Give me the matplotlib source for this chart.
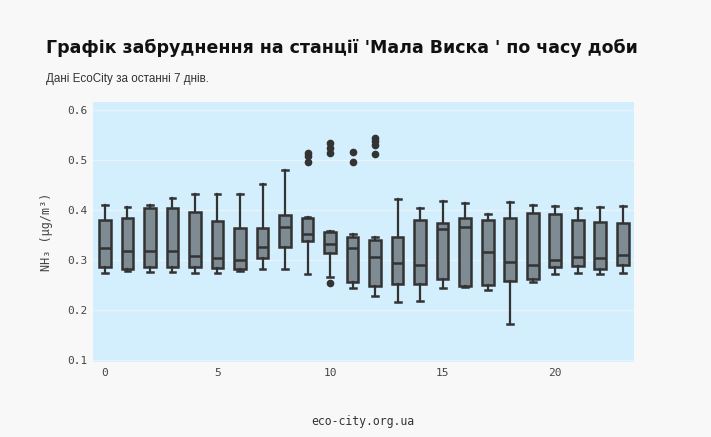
import numpy as np
import matplotlib.pyplot as plt

hours = list(range(24))
lo_whisk = [0.275, 0.2785, 0.2765, 0.2765, 0.274, 0.274, 0.279, 0.283, 0.283, 0.272, 0.266, 0.2444,
            0.2277, 0.2163, 0.219, 0.245, 0.2458, 0.2398, 0.1715, 0.2565, 0.2733, 0.274, 0.2725, 0.2745]
q1 = [0.2866, 0.283, 0.287, 0.287, 0.287, 0.2846, 0.283, 0.3047, 0.327, 0.3388, 0.3154, 0.2565,
      0.249, 0.2518, 0.253, 0.263, 0.2484, 0.2504, 0.2578, 0.2625, 0.2866, 0.2886, 0.283, 0.290]
med = [0.3235, 0.319, 0.318, 0.318, 0.3087, 0.3047, 0.3007, 0.327, 0.3656, 0.3516, 0.3315, 0.324,
       0.306, 0.2946, 0.2913, 0.3616, 0.3656, 0.3167, 0.2973, 0.2913, 0.3013, 0.306, 0.3054, 0.310]
q3 = [0.380, 0.384, 0.404, 0.404, 0.397, 0.378, 0.365, 0.365, 0.390, 0.385, 0.357, 0.3455,
      0.341, 0.346, 0.381, 0.375, 0.384, 0.3797, 0.385, 0.394, 0.3917, 0.381, 0.376, 0.3737]
hi_whisk = [0.410, 0.407, 0.410, 0.425, 0.433, 0.433, 0.433, 0.453, 0.481, 0.387, 0.358, 0.3516,
            0.346, 0.423, 0.404, 0.418, 0.4145, 0.3917, 0.4165, 0.411, 0.409, 0.4044, 0.4064, 0.4077]
outliers = {9: [0.515, 0.509, 0.496],
            10: [0.534, 0.524, 0.514, 0.2545],
            11: [0.516, 0.497],
            12: [0.545, 0.538, 0.531, 0.513]}

stats = []
for i, h in enumerate(hours):
    stats.append({'whislo': lo_whisk[i], 'q1': q1[i], 'med': med[i], 'q3': q3[i],
                  'whishi': hi_whisk[i], 'fliers': outliers.get(h, [])})

fig = plt.figure(figsize=(7.11, 4.37), dpi=100)
fig.patch.set_facecolor('#f8f8f8')
ax = fig.add_axes([0.1308, 0.1716, 0.7609, 0.595])
ax.set_facecolor('#d3eefc')

edge = '#333333'
ax.bxp(stats, positions=hours, widths=0.52, patch_artist=True, capwidths=0.26,
       boxprops=dict(facecolor='#7f8b92', edgecolor=edge, linewidth=1.8),
       medianprops=dict(color=edge, linewidth=1.8),
       whiskerprops=dict(color=edge, linewidth=1.6),
       capprops=dict(color=edge, linewidth=1.8),
       flierprops=dict(marker='o', markerfacecolor=edge, markeredgecolor=edge, markersize=4.5))

ax.set_xlim(-0.53, 23.5)
ax.set_ylim(0.096, 0.617)
ax.set_yticks([0.1, 0.2, 0.3, 0.4, 0.5, 0.6])
ax.set_xticks([0, 5, 10, 15, 20])
ax.set_xticklabels(['0', '5', '10', '15', '20'])
ax.set_yticklabels(['0.1', '0.2', '0.3', '0.4', '0.5', '0.6'])
ax.grid(axis='y', color='#e8f4fb', linewidth=1)
ax.set_axisbelow(True)
for s in ax.spines.values():
    s.set_visible(False)
ax.tick_params(length=0, labelsize=8, labelcolor='#444444', pad=4)
for lab in ax.get_xticklabels() + ax.get_yticklabels():
    lab.set_family('DejaVu Sans Mono')

ax.set_ylabel('NH₃ (μg/m³)', family='DejaVu Sans Mono', fontsize=8.5, color='#444444', labelpad=10)

fig.text(0.065, 0.891, "Графік забруднення на станції 'Мала Виска ' по часу доби",
         family='DejaVu Sans', fontweight='bold', fontsize=12.5, color='#111111', va='center')
fig.text(0.065, 0.82, 'Дані EcoCity за останні 7 днів.', family='Liberation Sans',
         fontsize=8.4, color='#333333', va='center')
fig.text(0.51, 0.035, 'eco-city.org.ua', family='DejaVu Sans Mono', fontsize=8.3,
         color='#333333', ha='center', va='center')

fig.savefig('out.png', dpi=100, facecolor=fig.get_facecolor())
